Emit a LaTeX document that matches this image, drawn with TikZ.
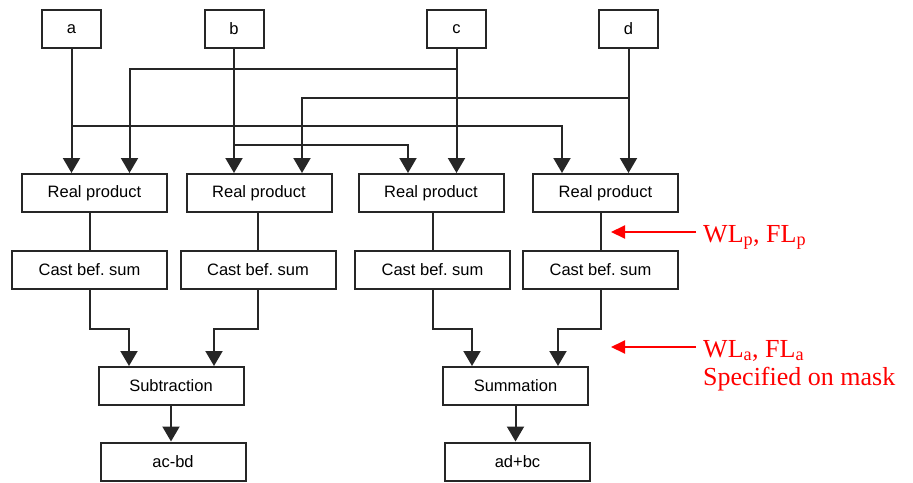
\documentclass[tikz,border=0pt]{standalone}
\usepackage{fontspec}
\setmainfont{Liberation Serif}
\setsansfont{Liberation Sans}
\usetikzlibrary{positioning, arrows.meta, calc}

\begin{document}
\begin{tikzpicture}[
  x=1pt, y=-1pt,
  box/.style={draw=black!85, line width=2pt, inner sep=0pt, minimum height=38pt,
    font=\sffamily\fontsize{16.5}{19}\selectfont\frenchspacing},
  inbox/.style={box, minimum width=59pt},
  prodbox/.style={box, minimum width=145pt},
  castbox/.style={box, minimum width=155pt},
  wire/.style={draw=black!85, line width=2pt},
  arr/.style={wire, -{Triangle[width=17pt,length=15pt]}},
  note/.style={text=red, font=\fontsize{26}{28}\selectfont, inner sep=0pt, anchor=base west},
  noteArr/.style={draw=red, line width=2pt, -{Triangle[width=13pt,length=14pt]}},
]
  \useasboundingbox (0,0) rectangle (913,482);

  % inputs
  \node[inbox] (a) at (71.5,29) {a};
  \node[inbox] (b) at (234,29) {b};
  \node[inbox] (c) at (456.5,29) {c};
  \node[inbox] (d) at (628.5,29) {d};

  % real products
  \node[prodbox] (rp1) at (94.5,193) {Real product};
  \node[prodbox] (rp2) at (259,193) {Real product};
  \node[prodbox] (rp3) at (431,193) {Real product};
  \node[prodbox] (rp4) at (605.5,193) {Real product};

  % casts
  \node[castbox] (cast1) at (89.5,270) {Cast bef. sum};
  \node[castbox] (cast2) at (258,270) {Cast bef. sum};
  \node[castbox] (cast3) at (432.5,270) {Cast bef. sum};
  \node[castbox] (cast4) at (600.5,270) {Cast bef. sum};

  % sums and results
  \node[prodbox] (sub) at (171,386) {Subtraction};
  \node[prodbox] (sum) at (515.5,386) {Summation};
  \node[prodbox] (acbd) at (173,461.5) {ac-bd};
  \node[prodbox] (adbc) at (517.5,461.5) {ad+bc};

  % straight drops
  \foreach \s/\t in {a/rp1, b/rp2, c/rp3, d/rp4}
    \draw[arr] (\s.south) -- (\s.south |- \t.north);
  % cross feeds
  \draw[arr] ($(c.south)+(0,20)$) -| ($(rp1.north)+(35,0)$);
  \draw[arr] ($(d.south)+(0,49)$) -| ($(rp2.north)+(43,0)$);
  \draw[arr] ($(a.south)+(0,77)$) -| ($(rp4.north)+(-43.5,0)$);
  \draw[arr] ($(b.south)+(0,96)$) -| ($(rp3.north)+(-23,0)$);

  % products to casts
  \foreach \i in {1,...,4}
    \draw[wire] (cast\i.north |- rp\i.south) -- (cast\i.north);

  % casts to sums
  \draw[arr] (cast1.south) -- ++(0,39) -| ($(sub.north)+(-42,0)$);
  \draw[arr] (cast2.south) -- ++(0,39) -| ($(sub.north)+(43,0)$);
  \draw[arr] (cast3.south) -- ++(0,39) -| ($(sum.north)+(-43.5,0)$);
  \draw[arr] (cast4.south) -- ++(0,39) -| ($(sum.north)+(42.5,0)$);

  \draw[arr] (sub.south) -- (sub.south |- acbd.north);
  \draw[arr] (sum.south) -- (sum.south |- adbc.north);

  % word length notes
  \node[note] (wlp) at (703,242) {WL\textsubscript{p}, FL\textsubscript{p}};
  \node[note] (wla) at (703,357) {WL\textsubscript{a}, FL\textsubscript{a}};
  \node[note] (mask) at (703,385) {Specified on mask};
  \coordinate (pinp) at (611,232);
  \coordinate (pina) at (611,347);
  \draw[noteArr] ([xshift=-7pt]wlp.west |- pinp) -- (pinp);
  \draw[noteArr] ([xshift=-7pt]wla.west |- pina) -- (pina);
\end{tikzpicture}
\end{document}
